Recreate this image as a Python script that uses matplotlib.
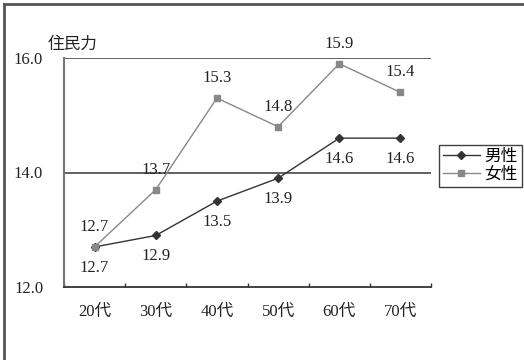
import matplotlib
matplotlib.use('Agg')
import matplotlib.pyplot as plt
from matplotlib.lines import Line2D
from matplotlib.ticker import FixedLocator

plt.rcParams['font.family'] = ['Liberation Serif', 'Noto Sans CJK JP', 'DejaVu Sans']
plt.rcParams['font.size'] = 12

# data
ages = ['20代', '30代', '40代', '50代', '60代', '70代']
male = [12.7, 12.9, 13.5, 13.9, 14.6, 14.6]
female = [12.7, 13.7, 15.3, 14.8, 15.9, 15.4]
yticks = [12.0, 14.0, 16.0]

fig = plt.figure(figsize=(5.24, 3.6), dpi=100)
ax = fig.add_axes([64 / 524, 1 - 287 / 360, (431 - 64) / 524, (287 - 58) / 360])

x = list(range(len(ages)))
ax.plot(x, male, color='#333333', lw=1.0, marker='D', ms=4.5, label='男性', zorder=3)
ax.plot(x, female, color='#888888', lw=1.0, marker='s', ms=5, label='女性', zorder=4)

for xi, v in zip(x, male):
    ax.annotate(f'{v:.1f}', (xi, v), xytext=(0, -15), textcoords='offset points',
                ha='center', va='center', fontsize=12, color='#222222')
for xi, v in zip(x, female):
    ax.annotate(f'{v:.1f}', (xi, v), xytext=(0, 14.5), textcoords='offset points',
                ha='center', va='center', fontsize=12, color='#222222')

ax.set_xlim(-0.5, len(ages) - 0.5)
ax.set_ylim(12, 16)
ax.set_yticks(yticks)
ax.set_yticklabels([f'{t:.1f}' for t in yticks])
ax.tick_params(axis='y', length=0, pad=15, labelsize=12, labelcolor='#222222')
ax.set_xticks(x)
ax.set_xticklabels(ages)
ax.tick_params(axis='x', which='major', length=0, pad=12, labelsize=12, labelcolor='#222222')
ax.xaxis.set_minor_locator(FixedLocator([i + 0.5 for i in range(-1, len(ages))]))
ax.tick_params(axis='x', which='minor', direction='in', length=3, width=1, color='#333333')

for yv in [14.0, 16.0]:
    ax.axhline(yv, color='#555555', lw=1.3, zorder=1)

for s in ['top', 'right']:
    ax.spines[s].set_visible(False)
ax.spines['left'].set_color('#777777')
ax.spines['left'].set_linewidth(1.5)
ax.spines['bottom'].set_color('#333333')
ax.spines['bottom'].set_linewidth(1.3)

ax.text(48 / 524, 1 - 45 / 360, '住民力', transform=fig.transFigure,
        ha='left', va='center', fontsize=12, color='#222222')

leg = fig.legend(loc='center right', bbox_to_anchor=(522 / 524, 1 - 166 / 360),
                 frameon=True, fancybox=False, handlelength=2.2, handletextpad=0.3,
                 borderpad=0.25, labelspacing=0.1, borderaxespad=0, fontsize=12)
leg.get_frame().set_edgecolor('#111111')
leg.get_frame().set_linewidth(1.0)

# outer frame (left and top edges)
fig.add_artist(Line2D([4 / 524, 4 / 524], [0, 1 - 4 / 360], transform=fig.transFigure,
                      color='#555555', lw=2))
fig.add_artist(Line2D([4 / 524, 1], [1 - 4 / 360, 1 - 4 / 360], transform=fig.transFigure,
                      color='#555555', lw=2))

fig.savefig('out.png', dpi=100)
